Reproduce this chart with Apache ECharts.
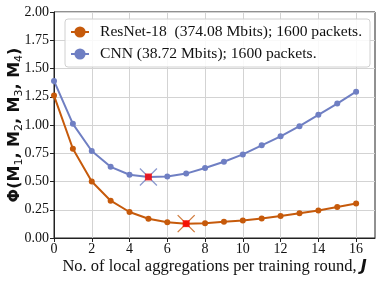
<!DOCTYPE html>
<html><head><meta charset="utf-8">
<script src="https://cdn.jsdelivr.net/npm/echarts@6/dist/echarts.min.js"></script>
<style>html,body{margin:0;padding:0;background:#fff}#c{width:382px;height:282px}</style>
</head><body><div id="c"></div>
<script>
var xValues = [0,1,2,3,4,5,6,7,8,9,10,11,12,13,14,15,16];
var resnetValues = [1.26,0.79,0.50,0.33,0.23,0.17,0.14,0.127,0.131,0.143,0.155,0.173,0.194,0.22,0.244,0.274,0.305];
var cnnValues = [1.39,1.01,0.77,0.63,0.56,0.54,0.545,0.57,0.62,0.675,0.74,0.82,0.90,0.99,1.09,1.19,1.295];
var resnetMin = [7, 0.127];
var cnnMin = [5, 0.54];
var xTicks = [0,2,4,6,8,10,12,14,16];
var resnetName = 'ResNet-18  (374.08 Mbits); 1600 packets.';
var cnnName = 'CNN (38.72 Mbits); 1600 packets.';
var orange = '#c65a0b';
var blue = '#6f7fc3';
var serif = '"Liberation Serif", "DejaVu Serif", serif';
var sans = '"DejaVu Sans", sans-serif';
function pairs(xs, ys){ return xs.map(function(x,i){ return [x, ys[i]]; }); }
var crossPath = 'path://M0,0L10,10M10,0L0,10';
var chart = echarts.init(document.getElementById('c'), null, {renderer:'canvas'});
chart.setOption({
  animation:false,
  grid:{left:54, right:7, top:12, bottom:44, show:true, borderColor:'#222', borderWidth:1, backgroundColor:'transparent', outerBoundsMode:'none', containLabel:false},
  legend:{
    left:65, top:19, orient:'vertical',
    padding:[5,8,5,5], itemGap:6, itemWidth:18, itemHeight:14,
    borderColor:'#d0d0d0', borderWidth:1, borderRadius:3, backgroundColor:'rgba(255,255,255,0.85)',
    textStyle:{fontFamily:serif, fontSize:15.6, color:'#111', padding:[0,0,0,6]},
    data:[resnetName, cnnName]
  },
  xAxis:{
    type:'value', min:0, max:17, interval:2,
    axisLine:{lineStyle:{color:'#222', width:1}},
    axisTick:{show:true, length:4, lineStyle:{color:'#222'}, customValues:xTicks},
    axisLabel:{fontFamily:serif, fontSize:14, color:'#111', margin:4, customValues:xTicks},
    splitLine:{show:true, lineStyle:{color:'#d3d3d3', width:1}},
    name:'No. of local aggregations per training round, {j|J}',
    nameLocation:'middle', nameGap:20, nameMoveOverlap:false,
    nameTextStyle:{fontFamily:serif, fontSize:16.5, color:'#111', padding:[0,0,0,0],
      rich:{j:{fontFamily:sans, fontWeight:'bold', fontStyle:'italic', fontSize:16, color:'#111'}}}
  },
  yAxis:{
    type:'value', min:0, max:2, interval:0.25,
    axisLine:{show:true, lineStyle:{color:'#222', width:1}},
    axisTick:{show:true, length:4, lineStyle:{color:'#222'}},
    axisLabel:{fontFamily:serif, fontSize:14, color:'#111', margin:5, formatter:function(v){return v.toFixed(2);}},
    splitLine:{show:true, lineStyle:{color:'#d3d3d3', width:1}},
    name:'{b|Φ(M}{s|1}{b|, M}{s|2}{b|, M}{s|3}{b|, M}{s|4}{b|)}',
    nameLocation:'middle', nameGap:29, nameRotate:90, nameMoveOverlap:false,
    nameTextStyle:{
      rich:{
        b:{fontFamily:sans, fontWeight:'bold', fontSize:16, color:'#111', lineHeight:20},
        s:{fontFamily:sans, fontWeight:'normal', fontSize:11, color:'#111', lineHeight:10, verticalAlign:'bottom'}
      }
    }
  },
  series:[
    {name:resnetName, type:'line', data:pairs(xValues, resnetValues), symbol:'circle', symbolSize:6,
     lineStyle:{color:orange, width:2}, itemStyle:{color:orange}, z:3},
    {name:cnnName, type:'line', data:pairs(xValues, cnnValues), symbol:'circle', symbolSize:6,
     lineStyle:{color:blue, width:2}, itemStyle:{color:blue}, z:3},
    {type:'scatter', data:[resnetMin], symbol:crossPath, symbolSize:17,
     itemStyle:{color:'transparent', borderColor:orange, borderWidth:1.3}, z:4},
    {type:'scatter', data:[cnnMin], symbol:crossPath, symbolSize:17,
     itemStyle:{color:'transparent', borderColor:blue, borderWidth:1.3}, z:4},
    {type:'scatter', data:[resnetMin, cnnMin], symbol:'rect', symbolSize:7,
     itemStyle:{color:'#ff0000'}, z:5}
  ]
});
</script></body></html>
